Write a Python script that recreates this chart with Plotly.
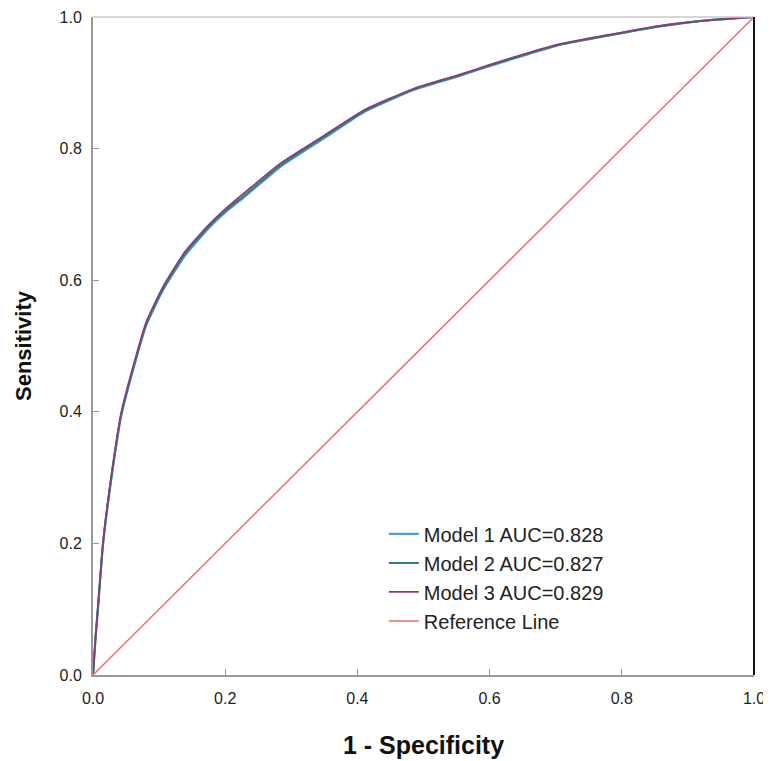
import plotly.graph_objects as go

# ROC points
fpr = [0, 0.004, 0.008, 0.015, 0.028, 0.043, 0.068, 0.08, 0.106, 0.139, 0.174, 0.2,
       0.232, 0.283, 0.35, 0.409, 0.485, 0.55, 0.602, 0.66, 0.707, 0.78, 0.859, 0.92, 0.97, 1.0]
tpr_model1 = [0, 0.058, 0.107, 0.196, 0.300, 0.395, 0.490, 0.530, 0.585, 0.637, 0.678, 0.703,
              0.729, 0.772, 0.816, 0.855, 0.889, 0.909, 0.926, 0.944, 0.958, 0.972, 0.986, 0.994, 0.998, 1.0]
tpr_model2 = [0, 0.059, 0.108, 0.198, 0.302, 0.397, 0.492, 0.532, 0.587, 0.640, 0.680, 0.705,
              0.731, 0.774, 0.818, 0.856, 0.890, 0.910, 0.927, 0.945, 0.958, 0.972, 0.986, 0.994, 0.998, 1.0]
tpr_model3 = [0, 0.060, 0.110, 0.200, 0.305, 0.400, 0.495, 0.535, 0.590, 0.643, 0.683, 0.708,
              0.735, 0.777, 0.820, 0.858, 0.891, 0.911, 0.928, 0.946, 0.959, 0.973, 0.987, 0.994, 0.998, 1.0]
ref_x = [0, 1]
ref_y = [0, 1]

names = ["Model 1 AUC=0.828", "Model 2 AUC=0.827", "Model 3 AUC=0.829", "Reference Line"]
colors = ["#4a9fd8", "#2f7f7f", "#8a3f74", "#f26b6b"]

fig = go.Figure()
fig.add_trace(go.Scatter(x=fpr, y=tpr_model1, mode="lines", name=names[0],
                         line=dict(color=colors[0], width=2.2, shape="spline", smoothing=0.5)))
fig.add_trace(go.Scatter(x=fpr, y=tpr_model2, mode="lines", name=names[1],
                         line=dict(color=colors[1], width=2, shape="spline", smoothing=0.5)))
fig.add_trace(go.Scatter(x=fpr, y=tpr_model3, mode="lines", name=names[2],
                         line=dict(color=colors[2], width=1.8, shape="spline", smoothing=0.5)))
fig.add_trace(go.Scatter(x=ref_x, y=ref_y, mode="lines", name=names[3],
                         line=dict(color=colors[3], width=1.5)))

axis_font = dict(family="Liberation Sans, Arial", size=16, color="#222")
fig.update_xaxes(range=[0, 1], tickvals=[0, 0.2, 0.4, 0.6, 0.8, 1.0], tickformat=".1f",
                 ticks="inside", ticklen=6, tickcolor="#999", showgrid=False, zeroline=False,
                 showline=True, linecolor="#999", linewidth=2, tickfont=axis_font,
                 ticklabelstandoff=8, automargin=False, ticklabeloverflow="allow",
                 title=dict(text="<b>1 - Specificity</b>", standoff=30,
                            font=dict(family="Liberation Sans, Arial", size=25, color="#111")))
fig.update_yaxes(range=[0, 1], tickvals=[0, 0.2, 0.4, 0.6, 0.8, 1.0], tickformat=".1f",
                 ticks="inside", ticklen=6, tickcolor="#999", showgrid=False, zeroline=False,
                 showline=True, linecolor="#999", linewidth=2, tickfont=axis_font,
                 ticklabelstandoff=6, automargin=False, ticklabeloverflow="allow",
                 title=dict(text="<b>Sensitivity</b>", standoff=22,
                            font=dict(family="Liberation Sans, Arial", size=22, color="#111")))

# frame: light top edge, dark right edge
fig.add_shape(type="line", xref="paper", yref="paper", x0=0, x1=1, y0=1, y1=1,
              line=dict(color="#c8c8c8", width=1.5))
fig.add_shape(type="line", xref="paper", yref="paper", x0=1, x1=1, y0=0, y1=1,
              line=dict(color="#111", width=2))

fig.update_layout(
    width=771, height=761,
    margin=dict(l=85, r=25, t=9, b=94),
    plot_bgcolor="white", paper_bgcolor="white",
    font=dict(family="Liberation Sans, Arial"),
    legend=dict(x=0.44, y=0.244, xanchor="left", yanchor="top",
                bgcolor="rgba(0,0,0,0)", font=dict(size=20, color="#222")),
)

fig.write_html("out.html")
